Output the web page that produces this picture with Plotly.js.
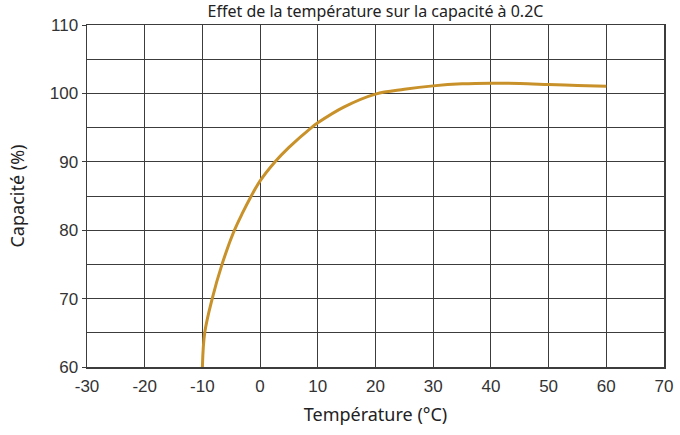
<!DOCTYPE html>
<html>
<head>
<meta charset="utf-8">
<script src="https://cdn.plot.ly/plotly-3.0.1.min.js"></script>
<style>html,body{margin:0;padding:0;background:#fff;}#chart{width:680px;height:435px;}</style>
</head>
<body>
<div id="chart"></div>
<script>
const temperature = [-10, -9.6, -8.3, -6.6, -4.6, -3, -1.6, 0, 2.6, 5, 8.9, 10, 14.5, 20, 25, 30, 35, 40, 45, 50, 55, 60];
const capacity = [60, 65, 70, 75, 79.7, 82.6, 84.9, 87.2, 90, 92.1, 95, 95.7, 98, 99.9, 100.6, 101.1, 101.4, 101.5, 101.45, 101.3, 101.15, 101.05];
const xTicks = [-30, -20, -10, 0, 10, 20, 30, 40, 50, 60, 70];
const yTicks = [60, 70, 80, 90, 100, 110];

const trace = {
  x: temperature, y: capacity, mode: 'lines', type: 'scatter',
  line: {color: '#c8912a', width: 3, shape: 'spline', smoothing: 1},
  hoverinfo: 'skip'
};

const gridCol = '#3c3c3c';
const layout = {
  width: 680, height: 435,
  margin: {l: 87, r: 16, t: 25, b: 68},
  paper_bgcolor: '#fff', plot_bgcolor: '#fff',
  showlegend: false,
  title: {text: 'Effet de la température sur la capacité à 0.2C',
    font: {family: 'Noto Sans, Open Sans, sans-serif', size: 16, color: '#222'},
    x: 0.5, xanchor: 'center', xref: 'paper', y: 0.974, yref: 'container', yanchor: 'middle'},
  xaxis: {
    range: [-30, 70], tickvals: xTicks, ticktext: xTicks.map(String),
    showgrid: true, gridcolor: gridCol, gridwidth: 1,
    showline: true, linecolor: gridCol, linewidth: 1.5, mirror: true,
    zeroline: false, ticks: '', ticklen: 0, ticklabelstandoff: 3,
    tickfont: {family: 'Liberation Sans, Arial, sans-serif', size: 17, color: '#333'},
    title: {text: 'Température (°C)', font: {family: 'Noto Sans, Open Sans, sans-serif', size: 18, color: '#222'}, standoff: 13}
  },
  yaxis: {
    range: [60, 110], tickvals: yTicks, ticktext: yTicks.map(String),
    showgrid: true, gridcolor: gridCol, gridwidth: 1,
    minor: {dtick: 5, tick0: 60, showgrid: true, gridcolor: gridCol, gridwidth: 1, ticks: ''},
    showline: true, linecolor: gridCol, linewidth: 1.5, mirror: true,
    zeroline: false, ticks: 'outside', ticklen: 4, tickcolor: gridCol,
    tickfont: {family: 'Liberation Sans, Arial, sans-serif', size: 17, color: '#333'},
    title: {text: 'Capacité (%)', font: {family: 'Noto Sans, Open Sans, sans-serif', size: 18, color: '#222'}, standoff: 20}
  }
};

Plotly.newPlot('chart', [trace], layout, {staticPlot: true, displayModeBar: false});
</script>
</body>
</html>
